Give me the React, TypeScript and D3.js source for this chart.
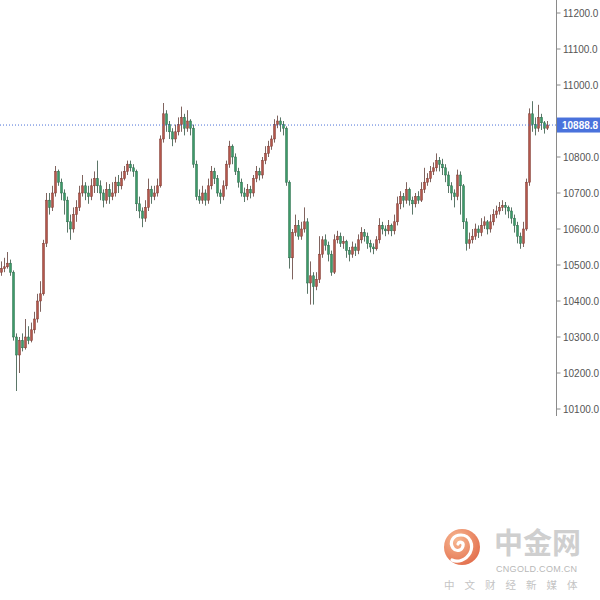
import React from "react";
import * as d3 from "d3";

// Candle data (open of each candle = previous close)
const firstOpen = 10480;
const closes = [
  10490, 10495, 10505, 10480, 10300, 10250, 10290, 10270, 10300, 10290,
  10320, 10350, 10400, 10420, 10560, 10680, 10660, 10700, 10760, 10730,
  10700, 10680, 10620, 10600, 10640, 10660, 10700, 10720, 10700, 10690,
  10720, 10740, 10720, 10700, 10680, 10710, 10690, 10700, 10730, 10720,
  10740, 10760, 10780, 10770, 10760, 10670, 10650, 10630, 10660, 10710,
  10690, 10700, 10720, 10850, 10920, 10890, 10870, 10850, 10870, 10890,
  10910, 10880, 10900, 10880, 10780, 10690, 10680, 10700, 10680, 10720,
  10760, 10740, 10700, 10690, 10720, 10780, 10830, 10800, 10760, 10730,
  10700, 10690, 10710, 10700, 10740, 10760, 10750, 10790, 10810, 10830,
  10850, 10890, 10900, 10890, 10880, 10730, 10520, 10590, 10610, 10580,
  10600, 10620, 10450, 10470, 10440, 10460, 10530, 10570, 10555, 10530,
  10480, 10570, 10580, 10560, 10565, 10540, 10530, 10550, 10540, 10570,
  10590, 10580, 10560, 10550, 10545, 10570, 10610, 10600, 10595, 10610,
  10595, 10620, 10670, 10690, 10680, 10710, 10680, 10670, 10690, 10680,
  10710, 10730, 10740, 10760, 10770, 10790, 10780, 10770, 10750, 10720,
  10700, 10690, 10750, 10720, 10620, 10560, 10570, 10580, 10600, 10590,
  10610, 10620, 10600, 10620, 10640, 10650, 10660, 10665, 10660, 10650,
  10630, 10610, 10580, 10560, 10600, 10730, 10920, 10890, 10880, 10910,
  10895, 10880, 10888.8,
];
const highs = [
  10510, 10520, 10536, 10515, 10485, 10310, 10300, 10310, 10350, 10330,
  10340, 10370, 10420, 10455, 10570, 10700, 10700, 10720, 10775, 10765,
  10740, 10710, 10690, 10640, 10660, 10680, 10720, 10750, 10730, 10720,
  10740, 10760, 10790, 10735, 10710, 10730, 10725, 10730, 10745, 10750,
  10760, 10775, 10790, 10790, 10780, 10765, 10690, 10660, 10680, 10740,
  10720, 10720, 10740, 10860, 10950, 10930, 10900, 10880, 10890, 10910,
  10940, 10920, 10930, 10905, 10890, 10790, 10710, 10720, 10710, 10740,
  10775, 10770, 10750, 10710, 10735, 10790, 10845, 10835, 10810, 10770,
  10740, 10715, 10725, 10720, 10750, 10775, 10770, 10800, 10830, 10845,
  10860, 10905, 10915, 10910, 10900, 10885, 10735, 10600, 10640, 10625,
  10620, 10660, 10630, 10510, 10480, 10480, 10580, 10580, 10585, 10565,
  10540, 10585, 10595, 10590, 10580, 10570, 10550, 10565, 10560, 10585,
  10605, 10600, 10590, 10570, 10560, 10580, 10630, 10620, 10610, 10625,
  10615, 10640, 10690, 10705, 10700, 10730, 10715, 10690, 10700, 10705,
  10730, 10770, 10755, 10775, 10785, 10810, 10800, 10795, 10780, 10760,
  10730, 10710, 10765, 10760, 10725, 10630, 10590, 10600, 10615, 10610,
  10630, 10635, 10625, 10640, 10655, 10665, 10675, 10680, 10675, 10665,
  10660, 10640, 10620, 10590, 10620, 10740, 10935, 10955, 10910, 10945,
  10920, 10900, 10900,
];
const lows = [
  10470, 10480, 10490, 10470, 10290, 10150, 10200, 10260, 10265, 10280,
  10285, 10310, 10340, 10370, 10415, 10550, 10640, 10650, 10690, 10720,
  10680, 10640, 10590, 10570, 10590, 10620, 10650, 10690, 10680, 10670,
  10680, 10700, 10700, 10680, 10660, 10670, 10670, 10680, 10690, 10700,
  10710, 10735, 10750, 10760, 10745, 10650, 10630, 10605, 10620, 10650,
  10670, 10680, 10690, 10715, 10840, 10870, 10850, 10830, 10840, 10860,
  10870, 10860, 10870, 10860, 10770, 10680, 10670, 10670, 10665, 10670,
  10710, 10725, 10690, 10670, 10680, 10710, 10770, 10780, 10750, 10715,
  10690, 10675, 10680, 10685, 10690, 10730, 10735, 10740, 10780, 10800,
  10820, 10840, 10880, 10870, 10860, 10720, 10490, 10460, 10580, 10570,
  10570, 10590, 10420, 10390, 10390, 10430, 10450, 10520, 10540, 10510,
  10470, 10475, 10560, 10550, 10545, 10520, 10510, 10520, 10525, 10530,
  10560, 10565, 10545, 10535, 10530, 10540, 10560, 10585, 10580, 10585,
  10580, 10585, 10610, 10655, 10660, 10670, 10665, 10640, 10660, 10670,
  10675, 10700, 10720, 10730, 10750, 10760, 10760, 10750, 10730, 10700,
  10680, 10660, 10680, 10640, 10600, 10540, 10545, 10560, 10570, 10575,
  10580, 10600, 10585, 10590, 10610, 10630, 10640, 10650, 10640, 10630,
  10615, 10590, 10560, 10545, 10550, 10595, 10720, 10870, 10860, 10870,
  10875, 10865, 10875,
];
const yTicks = [11200, 11100, 11000, 10800, 10700, 10600, 10500, 10400, 10300, 10200, 10100];
const lastPrice = 10888.8;

const UP_FILL = "#b4564b";
const UP_STROKE = "#7d3a32";
const DOWN_FILL = "#3c9a69";
const DOWN_STROKE = "#2a6b4a";

export default function App() {
  const n = closes.length;
  const x = d3.scaleLinear().domain([0, n - 1]).range([1.5, 547.5]);
  const y = d3.scaleLinear().domain([10100, 11200]).range([409, 13]);
  const candles = closes.map((c, i) => {
    const o = i === 0 ? firstOpen : closes[i - 1];
    return { o, c, h: highs[i], l: lows[i], i };
  });
  const bw = 2;
  const axisX = 556.5;

  return (
    <svg
      width={600}
      height={600}
      style={{ position: "fixed", left: 0, top: 0, background: "#fff" }}
      fontFamily="'Liberation Sans', Arial, sans-serif"
    >
      <rect x={0} y={0} width={600} height={600} fill="#fff" />
      {/* wicks */}
      <g>
        {candles.map((d) => (
          <line
            key={"w" + d.i}
            x1={x(d.i)}
            x2={x(d.i)}
            y1={y(d.h)}
            y2={y(d.l)}
            stroke={d.c >= d.o ? "#6b4a44" : "#3f5f4e"}
            strokeWidth={1}
            opacity={0.85}
          />
        ))}
      </g>
      {/* bodies */}
      <g>
        {candles.map((d) => {
          const up = d.c >= d.o;
          const top = y(Math.max(d.o, d.c));
          const bot = y(Math.min(d.o, d.c));
          return (
            <rect
              key={"b" + d.i}
              x={x(d.i) - bw / 2}
              y={top}
              width={bw}
              height={Math.max(1, bot - top)}
              fill={up ? UP_FILL : DOWN_FILL}
              stroke={up ? UP_STROKE : DOWN_STROKE}
              strokeWidth={0.5}
            />
          );
        })}
      </g>
      {/* last price dotted line */}
      <line
        x1={0}
        x2={axisX}
        y1={y(lastPrice)}
        y2={y(lastPrice)}
        stroke="#4a6fd6"
        strokeWidth={1}
        strokeDasharray="1,2"
      />
      {/* axis */}
      <line x1={axisX} x2={axisX} y1={0} y2={416} stroke="#8a8a8a" strokeWidth={1} />
      {yTicks.map((t) => (
        <g key={t}>
          <line x1={axisX} x2={axisX + 4} y1={y(t)} y2={y(t)} stroke="#8a8a8a" />
          <text x={563} y={y(t)} dy="0.35em" fontSize={10} fill="#555">
            {d3.format(".1f")(t)}
          </text>
        </g>
      ))}
      {/* last price label */}
      <rect x={557} y={y(lastPrice) - 7.5} width={43} height={15} fill="#4a72dc" />
      <text x={562} y={y(lastPrice)} dy="0.35em" fontSize={10} fill="#fff" fontWeight="bold">
        {d3.format(".1f")(lastPrice)}
      </text>
      {/* watermark logo */}
      <defs>
        <radialGradient id="lg" cx="35%" cy="30%" r="75%">
          <stop offset="0%" stopColor="#f7b892" />
          <stop offset="100%" stopColor="#e3704e" />
        </radialGradient>
      </defs>
      <circle cx={462} cy={547} r={18} fill="url(#lg)" />
      <path
        d="M470,553 C474,545 470,535 461,535 C453,535 449,542 453,548 C456,552 462,551 463,546 C464,542 459,541 458,544 M470,553 C466,560 458,563 452,560"
        fill="none"
        stroke="#fff"
        strokeWidth={3.2}
        strokeLinecap="round"
      />
      <text x={494} y={554} fontSize={29} fontWeight="bold" fill="#cfcfcf" fontFamily="'Noto Sans CJK SC', sans-serif">
        中金网
      </text>
      <text x={496} y={572} fontSize={9} fill="#b8b8b8" letterSpacing={0.3}>
        CNGOLD.COM.CN
      </text>
      <text x={444} y={589} fontSize={10.5} fill="#c4c4c4" letterSpacing={10} fontFamily="'Noto Sans CJK SC', sans-serif">
        中文财经新媒体
      </text>
    </svg>
  );
}
